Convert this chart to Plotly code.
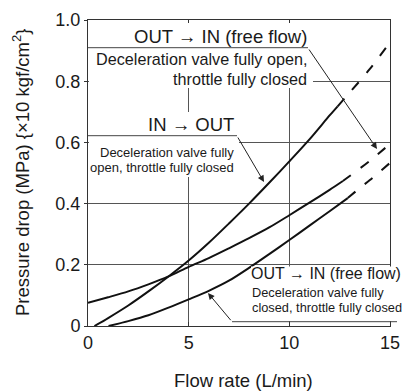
import plotly.graph_objects as go

# ---- data ----
x_ticks = [0, 5, 10, 15]
x_tick_text = ["0", "5", "10", "15"]
y_ticks = [0, 0.2, 0.4, 0.6, 0.8, 1.0]
y_tick_text = ["0", "0.2", "0.4", "0.6", "0.8", "1.0"]

# IN -> OUT (deceleration valve fully open, throttle fully closed)
in_out_x = [0.32, 1, 2, 3, 4, 5, 6, 7, 8, 9, 10, 11, 12, 12.4]
in_out_y = [0, 0.026, 0.067, 0.113, 0.162, 0.214, 0.272, 0.335, 0.40, 0.468, 0.538, 0.61, 0.688, 0.718]
in_out_x_ext = [12.4, 13, 14, 15]
in_out_y_ext = [0.718, 0.763, 0.84, 0.927]

# OUT -> IN free flow (deceleration valve fully open)
free_open_x = [0, 1, 2, 3, 4, 5, 6, 7, 8, 9, 10, 11, 12, 12.66]
free_open_y = [0.076, 0.094, 0.113, 0.136, 0.162, 0.193, 0.222, 0.254, 0.287, 0.322, 0.362, 0.403, 0.445, 0.474]
free_open_x_ext = [12.66, 13, 14, 15]
free_open_y_ext = [0.474, 0.49, 0.54, 0.595]

# OUT -> IN free flow (deceleration valve fully closed)
free_closed_x = [1.02, 2, 3, 4, 5, 6, 7, 8, 9, 10, 11, 12, 12.9]
free_closed_y = [0, 0.016, 0.035, 0.06, 0.087, 0.115, 0.148, 0.19, 0.235, 0.281, 0.328, 0.375, 0.418]
free_closed_x_ext = [12.9, 13.5, 14, 15]
free_closed_y_ext = [0.418, 0.451, 0.477, 0.533]

# ---- layout helpers (pixel -> paper) ----
W, H = 402, 392
L, R, T, B = 88, 12, 20, 66
PW, PH = W - L - R, H - T - B


def px(x):
    return (x - L) / PW


def py(y):
    return (H - B - y) / PH


FONT = "Liberation Sans, Arial, Helvetica, sans-serif"
INK = "#1a1a1a"
GRID = "#555555"

fig = go.Figure()
solid = dict(color="#111111", width=2)
dashed = dict(color="#111111", width=2, dash="10px,12px")
for xs, ys, xe, ye in [
    (in_out_x, in_out_y, in_out_x_ext, in_out_y_ext),
    (free_open_x, free_open_y, free_open_x_ext, free_open_y_ext),
    (free_closed_x, free_closed_y, free_closed_x_ext, free_closed_y_ext),
]:
    fig.add_trace(go.Scatter(x=xs, y=ys, mode="lines", line=dict(shape="spline", smoothing=0.8, **solid),
                             hoverinfo="skip", showlegend=False))
    fig.add_trace(go.Scatter(x=xe, y=ye, mode="lines", line=dict(shape="spline", smoothing=0.8, **dashed),
                             hoverinfo="skip", showlegend=False))

shapes = []
# white boxes behind the annotation texts (hide grid lines)
for (x0, y0, x1, y1) in [(89, 23, 313, 88), (89, 112, 239, 177), (251, 266.5, 402, 321)]:
    shapes.append(dict(type="rect", xref="paper", yref="paper", x0=px(x0), x1=px(x1), y0=py(y1), y1=py(y0),
                       fillcolor="white", line=dict(width=0), layer="above"))
# underlines of labels
for (x0, x1, y) in [(88, 308, 47.7), (88, 237, 135.7), (232, 397, 321.7)]:
    shapes.append(dict(type="line", xref="paper", yref="paper", x0=px(x0), x1=px(x1), y0=py(y), y1=py(y),
                       line=dict(color="#444444", width=1), layer="above"))

annotations = []


def label(text, x, base, size, anchor):
    annotations.append(dict(text=text, xref="paper", yref="paper", x=px(x), y=py(base - 0.35 * size),
                            xanchor=anchor, yanchor="middle", showarrow=False, borderpad=0,
                            font=dict(family=FONT, size=size, color=INK)))


label("OUT \u2192 IN (free flow)", 308, 42.7, 18.5, "right")
label("Deceleration valve fully open,", 308, 65, 16.2, "right")
label("throttle fully closed", 308, 84.3, 16.2, "right")
label("IN \u2192 OUT", 235, 131, 18.5, "right")
label("Deceleration valve fully", 235, 156.7, 13, "right")
label("open, throttle fully closed", 235, 171.7, 13, "right")
label("OUT \u2192 IN (free flow)", 250, 279, 16, "left")
label("Deceleration valve fully", 250.5, 296.7, 12.8, "left")
label("closed, throttle fully closed", 250.5, 312.3, 12.8, "left")

# arrows (tip, tail)
for (tx, ty, sx, sy) in [(377, 149, 308, 48), (264, 182, 237, 136), (208, 293, 232, 321.7)]:
    annotations.append(dict(text="", xref="paper", yref="paper", x=px(tx), y=py(ty), ax=sx - tx, ay=sy - ty,
                            showarrow=True, arrowhead=2, arrowsize=1.3, arrowwidth=1, arrowcolor="#222222",
                            standoff=0))

# axis titles
annotations.append(dict(text="Pressure drop (MPa) {\u00d710 kgf/cm<sup>2</sup>}", xref="paper", yref="paper",
                        x=px(21), y=py(173), textangle=-90, showarrow=False, xanchor="center", yanchor="middle",
                        font=dict(family=FONT, size=18.5, color=INK)))
annotations.append(dict(text="Flow rate (L/min)", xref="paper", yref="paper", x=px(243.5), y=py(380.5),
                        showarrow=False, xanchor="center", yanchor="middle",
                        font=dict(family=FONT, size=18.5, color=INK)))

fig.update_layout(
    width=W, height=H, margin=dict(l=L, r=R, t=T, b=B, autoexpand=False),
    paper_bgcolor="white", plot_bgcolor="white",
    shapes=shapes, annotations=annotations,
    font=dict(family=FONT, size=18, color=INK),
)
fig.update_xaxes(range=[0, 15], tickvals=x_ticks, ticktext=x_tick_text, showgrid=True, gridcolor=GRID,
                 gridwidth=1, showline=True, linecolor="#333333", linewidth=1, mirror="ticks",
                 ticks="inside", ticklen=4, tickcolor="#333333", zeroline=False, automargin=False,
                 tickfont=dict(family=FONT, size=18, color=INK))
fig.update_yaxes(range=[0, 1.0], tickvals=y_ticks, ticktext=y_tick_text, showgrid=True, gridcolor=GRID,
                 gridwidth=1, showline=True, linecolor="#333333", linewidth=1, mirror=True,
                 ticks="outside", ticklen=3, tickcolor="#333333", zeroline=False, automargin=False,
                 tickfont=dict(family=FONT, size=18, color=INK))

fig.write_html("out.html", config={"displayModeBar": False})
